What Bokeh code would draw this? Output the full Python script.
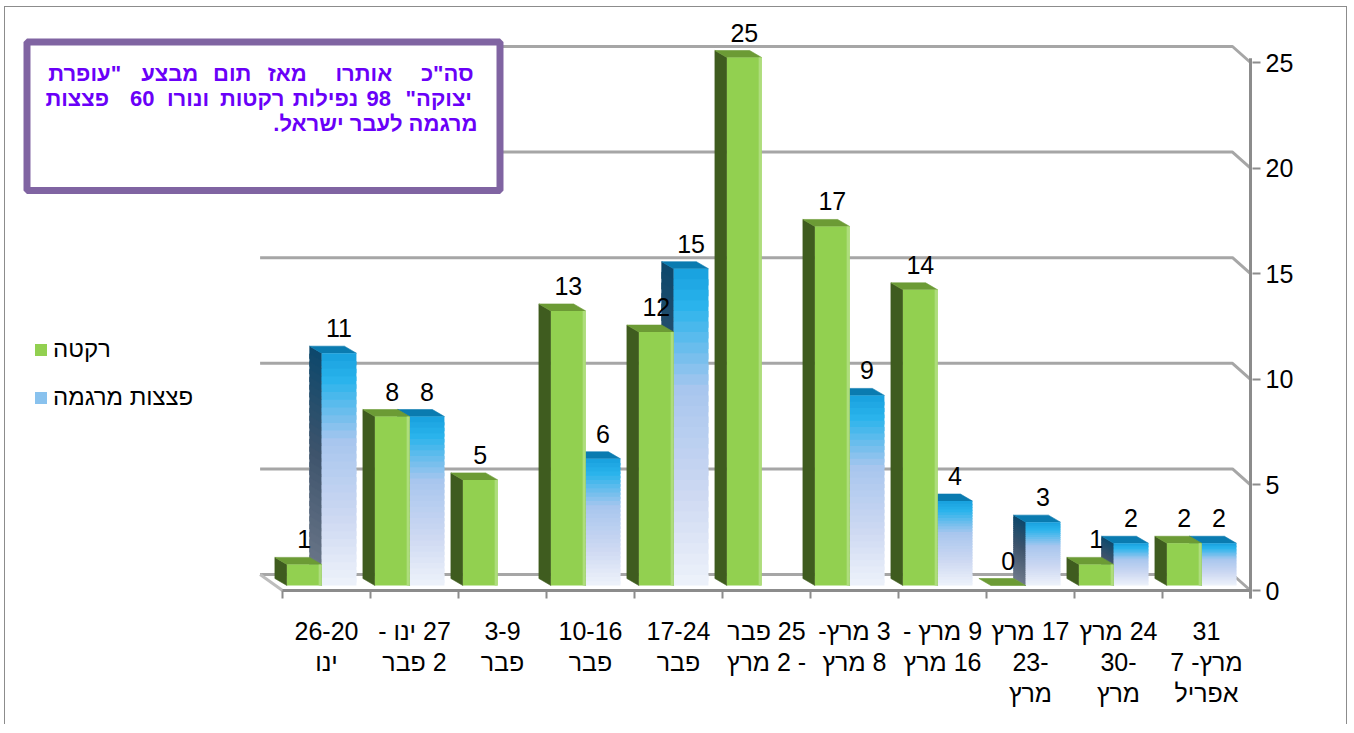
from bokeh.plotting import figure
from bokeh.models import (Range1d, LinearAxis, FixedTicker, Legend, LegendItem,
                          BoxAnnotation, ColumnDataSource)
from bokeh.core.properties import value
from bokeh.embed import file_html
from bokeh.resources import INLINE

# ---------------- data ----------------
category_lines = [
    ["26-20", "ינו"],
    ["27 ינו -", "2 פבר"],
    ["3-9", "פבר"],
    ["10-16", "פבר"],
    ["17-24", "פבר"],
    ["25 פבר", "- 2 מרץ"],
    ["3 מרץ-", "8 מרץ"],
    ["9 מרץ -", "16 מרץ"],
    ["17 מרץ", "-23", "מרץ"],
    ["24 מרץ", "-30", "מרץ"],
    ["31", "מרץ- 7", "אפריל"],
]
rockets = [1, 8, 5, 13, 12, 25, 17, 14, 0, 1, 2]
mortars = [11, 8, None, 6, 15, None, 9, 4, 3, 2, 2]
y_ticks = [0, 5, 10, 15, 20, 25]
series_names = ["רקטה", "פצצות מרגמה"]
title_line1 = ['סה"כ', "אותרו", "מאז", "תום", "מבצע", '"עופרת']
title_line2 = ['יצוקה"', "98", "נפילות", "רקטות", "ונורו", "60", "פצצות"]
title_line3 = "מרגמה לעבר ישראל."

# ---------------- geometry (page pixels -> data) ----------------
CX, CY = 5, 7          # canvas origin on the page (margin + 1px border)
W, H = 1343, 718
PXX, PXY = 88.0, 21.12
X0P, Y0P = 282.0, 590.0
FL, FR, FT, FB = 20, 1252, 20, 600

def dx(px):
    return -0.5 + (px - X0P) / PXX

def dy(py):
    return (Y0P - py) / PXY

FONT = "Liberation Sans"
RLE, PDF, RLM = "\u202b", "\u202c", "\u200f"

p = figure(width=W, height=H, x_range=Range1d(dx(FL), dx(FR)),
           y_range=Range1d(dy(FB), dy(FT)), output_backend="svg",
           toolbar_location=None, x_axis_location=None, y_axis_location=None,
           min_border_left=FL - CX, min_border_right=CX + W - FR,
           min_border_top=FT - CY, min_border_bottom=CY + H - FB)
p.outline_line_color = None
p.background_fill_color = "white"
p.border_fill_color = "white"
for g in p.grid:
    g.visible = False
p.styles = {"margin-left": "4px", "margin-top": "6px",
            "border-left": "1px solid #8c8c8c", "border-top": "1px solid #8c8c8c",
            "border-right": "1px solid #8c8c8c"}

n = len(rockets)
right_end = n - 0.5
wdx, wdy = -18 / PXX, 16 / PXY      # back wall offset
bdx, bdy = -12 / PXX, 7 / PXY       # bar depth
base = dy(585)

GRID = "#a6a6a6"
gx, gy = [], []
for v in y_ticks:
    gx.append([-0.5 + wdx - 0.05, right_end + wdx, right_end])
    gy.append([v + wdy, v + wdy, v])
p.multi_line(gx, gy, line_color=GRID, line_width=3)
p.line([-0.5 + wdx - 0.05, -0.5], [wdy, 0], line_color="#bdbdbd", line_width=3)


def lerp(stops, f):
    for (p0, c0), (p1, c1) in zip(stops[:-1], stops[1:]):
        if f <= p1:
            t = (f - p0) / (p1 - p0) if p1 > p0 else 0
            c = [round(a + (b - a) * t) for a, b in zip(c0, c1)]
            return "#%02x%02x%02x" % tuple(c)
    return "#%02x%02x%02x" % tuple(stops[-1][1])

blue_front_stops = [(0.0, (24, 160, 222)), (0.12, (42, 180, 236)), (0.38, (168, 198, 238)),
                    (0.7, (204, 216, 242)), (1.0, (238, 242, 250))]
blue_side_stops = [(0.0, (12, 72, 108)), (0.45, (62, 84, 108)), (1.0, (112, 122, 140))]

NB = 30
bf = dict(l=[], r=[], t=[], b=[], c=[])
bs = dict(xs=[], ys=[], c=[])
bt = dict(xs=[], ys=[])
for i, v in enumerate(mortars):
    if v is None:
        continue
    x0, x1 = i - 0.055, i + 0.34
    top = base + v
    h = v / NB
    for k in range(NB):
        yt = top - k * h
        yb = max(base, yt - h * 1.6)
        f = (k + 0.5) / NB
        bf["l"].append(x0); bf["r"].append(x1); bf["t"].append(yt); bf["b"].append(yb)
        bf["c"].append(lerp(blue_front_stops, f))
        bs["xs"].append([x0, x0, x0 + bdx, x0 + bdx])
        bs["ys"].append([yb, yt, yt + bdy, yb + bdy])
        bs["c"].append(lerp(blue_side_stops, f))
    bt["xs"].append([x0, x1, x1 + bdx, x0 + bdx])
    bt["ys"].append([top, top, top + bdy, top + bdy])
p.patches("xs", "ys", source=ColumnDataSource(bs), fill_color="c", line_color="c", line_width=0.6)
p.patches(bt["xs"], bt["ys"], fill_color="#0a7bb0", line_color="#0a7bb0", line_width=0.6)
r_blue = p.quad(left="l", right="r", top="t", bottom="b", source=ColumnDataSource(bf),
                fill_color="c", line_color=None)

gsx, gsy, gtx, gty = [], [], [], []
gl, gr, gt, gb = [], [], [], []
for i, v in enumerate(rockets):
    x0, x1 = i - 0.45, i - 0.055
    top = base + v
    if v > 0:
        gsx.append([x0, x0, x0 + bdx, x0 + bdx])
        gsy.append([base, top, top + bdy, base + bdy])
        gl.append(x0); gr.append(x1); gt.append(top); gb.append(base)
    gtx.append([x0, x1, x1 + bdx, x0 + bdx])
    gty.append([top, top, top + bdy, top + bdy])
p.patches(gsx, gsy, fill_color="#3f5c1f", line_color="#3f5c1f", line_width=0.6)
p.patches(gtx, gty, fill_color="#6c9b35", line_color="#6c9b35", line_width=0.6)
r_green = p.quad(left=gl, right=gr, top=gt, bottom=gb, fill_color="#92d050", line_color=None)
p.quad(left=[r - 3 / PXX for r in gr], right=gr, top=gt, bottom=gb,
       fill_color="#aedd7c", line_color=None)

p.line([-0.5, right_end], [0, 0], line_color="#8c8c8c", line_width=3)
edges = [i - 0.5 for i in range(n + 1)]
p.segment(x0=edges, y0=[0] * len(edges), x1=edges, y1=[dy(598)] * len(edges),
          line_color="#8c8c8c", line_width=2)
p.line([right_end, right_end], [dy(598), y_ticks[-1] + 0.2], line_color="#8c8c8c", line_width=3)

lx, ly, lt = [], [], []
for i, v in enumerate(rockets):
    lx.append(i - 0.2525); ly.append(base + v + 25 / PXY); lt.append(str(v))
for i, v in enumerate(mortars):
    if v is None:
        continue
    lx.append(i + 0.1425); ly.append(base + v + 25 / PXY); lt.append(str(v))
p.text(lx, ly, text=lt, text_font=value(FONT), text_font_size="25px",
       text_align="center", text_baseline="middle", text_color="black")

yax = LinearAxis(ticker=FixedTicker(ticks=y_ticks), axis_line_color=None,
                 major_tick_line_color="#8c8c8c", major_tick_line_width=2,
                 major_tick_in=0, major_tick_out=8, minor_tick_line_color=None,
                 major_label_text_font=FONT, major_label_text_font_size="25px",
                 major_label_text_color="black", major_label_standoff=5)
p.add_layout(yax, "right")

overrides = {i: "\n".join(RLE + s + PDF for s in lines) for i, lines in enumerate(category_lines)}
xax = LinearAxis(ticker=FixedTicker(ticks=list(range(n))), axis_line_color=None,
                 major_tick_line_color=None, minor_tick_line_color=None,
                 major_label_overrides=overrides, major_label_text_font=FONT,
                 major_label_text_font_size="25px", major_label_text_color="black",
                 major_label_text_line_height=1.12, major_label_standoff=10)
p.add_layout(xax, "below")

box = BoxAnnotation(left=dx(26.5), right=dx(499.5), top=dy(41.5), bottom=dy(190),
                    fill_color="white", fill_alpha=1, line_color="#8064a2",
                    line_width=7, line_alpha=1)
p.add_layout(box)

TCOL = "#6a00f8"
c1 = [446.7, 363.3, 286.7, 231.7, 169.2, 84.2]
c2 = [438.3, 378.3, 325.0, 251.7, 187.5, 141.7, 76.7]
tx = [dx(c) for c in c1] + [dx(c) for c in c2]
ty = [dy(72.5)] * len(c1) + [dy(97.5)] * len(c2)
tt = [RLM + w + RLM for w in title_line1 + title_line2]
r1 = p.text(tx, ty, text=tt, text_font=value(FONT), text_font_size="22px",
            text_font_style="bold", text_color=TCOL, text_align="center",
            text_baseline="middle")
r1.level = "overlay"
r2 = p.text([dx(477)], [dy(122.5)], text=[RLM + title_line3 + RLM], text_font=value(FONT),
            text_font_size="22px", text_font_style="bold", text_color=TCOL,
            text_align="right", text_baseline="middle")
r2.level = "overlay"

legend = Legend(items=[LegendItem(label=series_names[0], renderers=[r_green]),
                       LegendItem(label=series_names[1], renderers=[r_blue], index=9)],
                location=(13, 189), glyph_width=15, glyph_height=15,
                label_text_font=FONT, label_text_font_size="24px", label_text_color="black",
                label_standoff=5, spacing=20, padding=0, margin=0,
                border_line_color=None, background_fill_alpha=0)
p.add_layout(legend)

open("out.html", "w").write(file_html(p, INLINE))
